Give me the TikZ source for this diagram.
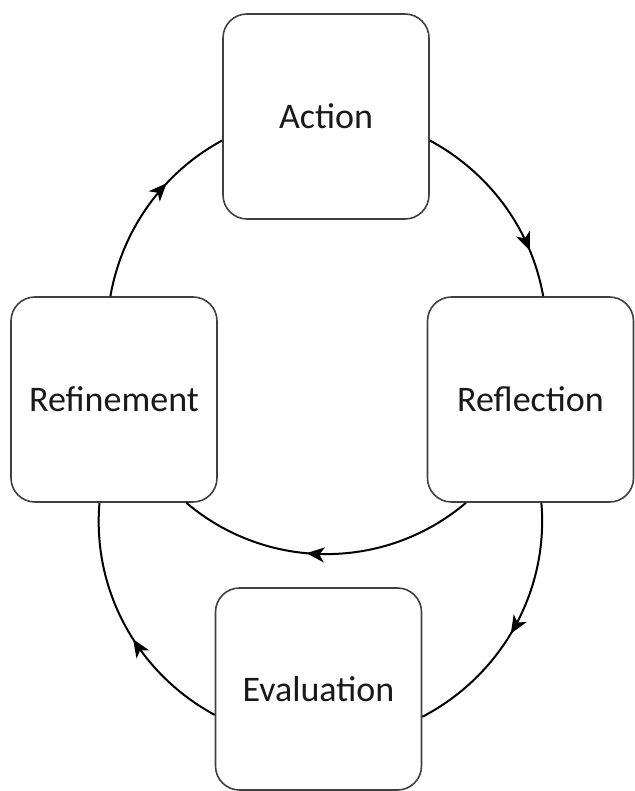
\documentclass[tikz,border=0pt]{standalone}
\usepackage{fontspec}
\setmainfont{Carlito}
\usepackage{tikz}
\usetikzlibrary{arrows.meta}
\usetikzlibrary{calc}
\usetikzlibrary{positioning}
\usetikzlibrary{decorations.markings}

\begin{document}
\begin{tikzpicture}[x=1pt, y=1pt, semithick,
	flow/.style={line width=2pt, decoration={markings, mark=at position #1 with {\arrow{Stealth[length=18pt, width=15pt, inset=5pt]}}}, postaction={decorate}}]
		\tikzstyle{phase}=[draw=black!75, line width=1.6pt, fill=white, text=black!90, rounded corners=24pt, minimum width=206pt, minimum height=205pt, font=\fontsize{36}{40}\selectfont]
		\useasboundingbox (0,0) rectangle (634,-791);
			\node[phase]  (act) at (326,-116.5) {Action};
			\node[phase]  (refl) [on grid, below right=283pt and 204.5pt of act] {Reflection};
			\node[phase]  (refi) [on grid, below left=283pt and 212pt of act] {Refinement};
			\node[phase, minimum height=202pt]  (eval) [on grid, below left=572.5pt and 7.5pt of act] {Evaluation};

			% upper loop
			\draw[flow=0.76]  (act.-13.9) to[out=-28.4, in=100, looseness=0.9] (refl.83.8);
			\draw[flow=0.565] (refl.238.5) to[out=-139.7, in=-40.3, looseness=0.97] (refi.-55.5);
			\draw[flow=0.645] (refi.92.1) to[out=80, in=208.4, looseness=0.9] (act.193.9);
			% lower loop
			\draw[flow=0.526] (refl.-84.6) to[out=-85.1, in=27.5, looseness=0.93] (eval.-15.1);
			\draw[flow=0.44]  (eval.194.3) to[out=151.6, in=265.1, looseness=0.93] (refi.262.1);
\end{tikzpicture}
\end{document}
